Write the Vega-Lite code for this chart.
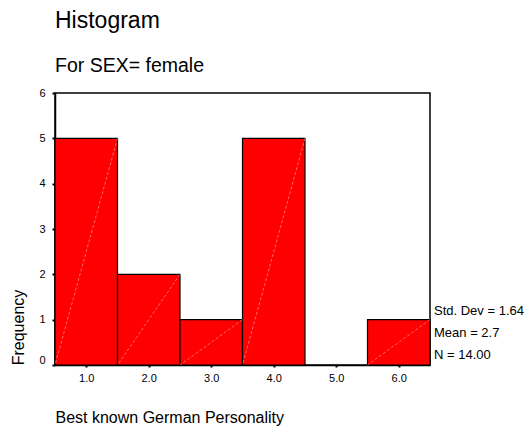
{
  "$schema": "https://vega.github.io/schema/vega-lite/v6.json",
  "width": 375,
  "height": 272,
  "autosize": {"type": "none"},
  "padding": {"left": 55, "top": 93, "right": 94, "bottom": 63},
  "background": "white",
  "title": {
    "text": "Histogram",
    "subtitle": "For SEX= female",
    "anchor": "start",
    "frame": "group",
    "font": "Liberation Sans",
    "subtitleFont": "Liberation Sans",
    "fontSize": 23,
    "subtitleFontSize": 19.5,
    "fontWeight": "normal",
    "color": "black",
    "subtitleColor": "black",
    "offset": 12,
    "subtitlePadding": 24
  },
  "config": {
    "font": "Liberation Sans",
    "view": {"stroke": "black", "strokeWidth": 1.5},
    "axis": {
      "grid": false,
      "domainColor": "black",
      "domainWidth": 1.5,
      "tickColor": "black",
      "labelColor": "black",
      "titleColor": "black",
      "labelFont": "Liberation Sans",
      "titleFont": "Liberation Sans",
      "titleFontWeight": "normal"
    }
  },
  "datasets": {
    "bins": [
      {"value": 1, "lo": 0.5, "hi": 1.5, "count": 5},
      {"value": 2, "lo": 1.5, "hi": 2.5, "count": 2},
      {"value": 3, "lo": 2.5, "hi": 3.5, "count": 1},
      {"value": 4, "lo": 3.5, "hi": 4.5, "count": 5},
      {"value": 5, "lo": 4.5, "hi": 5.5, "count": 0},
      {"value": 6, "lo": 5.5, "hi": 6.5, "count": 1}
    ],
    "stats": [
      {"stat": "Std. Dev = 1.64"},
      {"stat": "Mean = 2.7"},
      {"stat": "N = 14.00"}
    ]
  },
  "layer": [
    {
      "data": {"name": "bins"},
      "transform": [{"filter": "datum.count > 0"}],
      "mark": {"type": "bar", "fill": "#ff0000", "stroke": "black", "strokeWidth": 1.2},
      "encoding": {
        "x": {
          "field": "lo",
          "type": "quantitative",
          "scale": {"domain": [0.5, 6.5], "nice": false, "zero": false},
          "axis": {
            "values": [1, 2, 3, 4, 5, 6],
            "format": ".1f",
            "title": "Best known German Personality",
            "titleFontSize": 16,
            "titleAnchor": "start",
            "titleAlign": "left",
            "titleBaseline": "middle",
            "titleX": 0,
            "titleY": 52,
            "tickSize": 2,
            "tickWidth": 2,
            "labelPadding": 5,
            "labelFontSize": 11
          }
        },
        "x2": {"field": "hi"},
        "y": {
          "field": "count",
          "type": "quantitative",
          "scale": {"domain": [0, 6], "nice": false},
          "axis": {
            "values": [0, 1, 2, 3, 4, 5, 6],
            "title": "Frequency",
            "titleFontSize": 16,
            "titleAngle": 270,
            "titleAlign": "center",
            "titleBaseline": "middle",
            "titleX": -37,
            "titleY": 234,
            "tickSize": 3,
            "tickWidth": 2,
            "labelPadding": 7,
            "labelFontSize": 11,
            "labelBaseline": {"condition": {"test": "datum.value === 0", "value": "bottom"}, "value": "middle"}
          }
        },
        "y2": {"datum": 0}
      }
    },
    {
      "data": {"name": "bins"},
      "transform": [{"filter": "datum.count > 0"}],
      "mark": {"type": "rule", "color": "#ffb0b0", "strokeWidth": 0.6, "strokeDash": [3, 2]},
      "encoding": {
        "x": {"field": "hi", "type": "quantitative"},
        "x2": {"field": "lo"},
        "y": {"field": "count", "type": "quantitative"},
        "y2": {"datum": 0}
      }
    },
    {
      "data": {"name": "stats"},
      "mark": {"type": "point", "opacity": 0},
      "encoding": {
        "color": {
          "field": "stat",
          "type": "nominal",
          "sort": ["Std. Dev = 1.64", "Mean = 2.7", "N = 14.00"],
          "scale": {"range": ["transparent", "transparent", "transparent"]},
          "legend": {
            "orient": "none",
            "legendX": 366,
            "legendY": 211,
            "title": null,
            "symbolSize": 0,
            "symbolStrokeWidth": 0,
            "labelOffset": 0,
            "labelFontSize": 13,
            "labelColor": "black",
            "labelFont": "Liberation Sans",
            "labelLimit": 200,
            "rowPadding": 8,
            "padding": 0
          }
        }
      }
    }
  ]
}
